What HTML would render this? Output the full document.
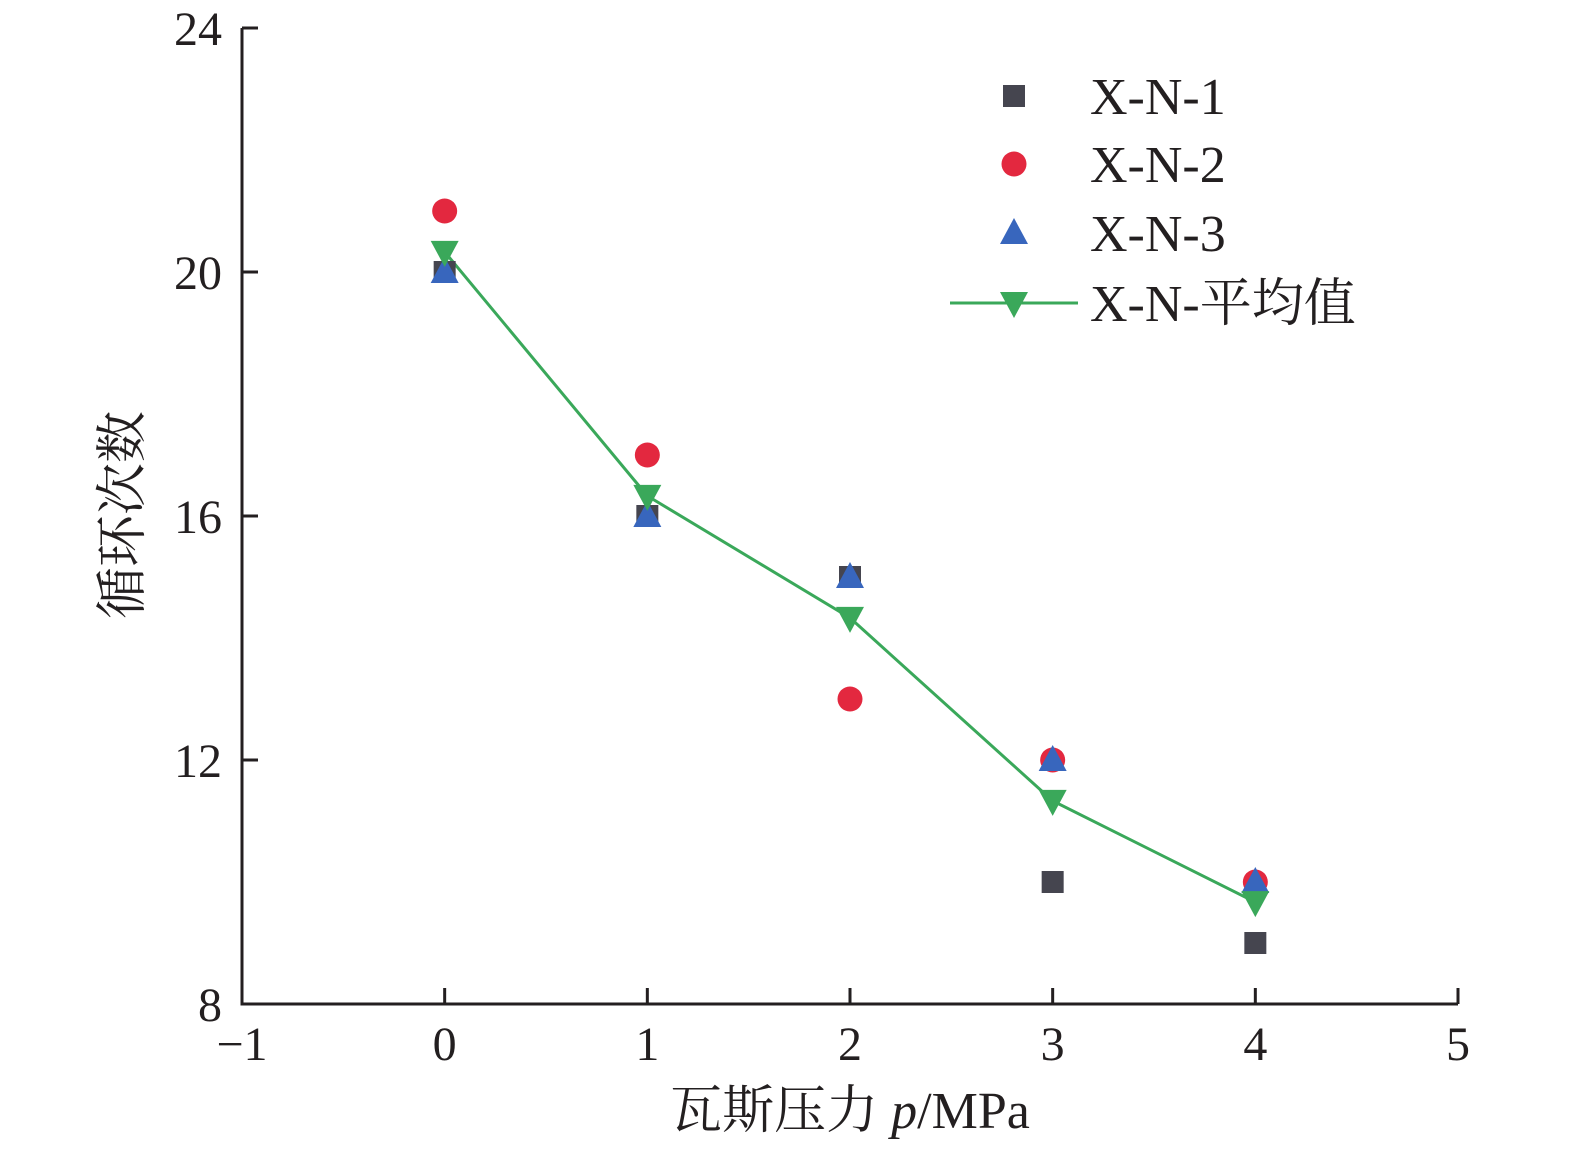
<!DOCTYPE html>
<html><head><meta charset="utf-8"><style>
body{margin:0;background:#fff}
svg text{font-family:"Liberation Serif","Noto Serif CJK SC",serif;fill:#231f20}
</style></head><body>
<svg id="chart" width="1575" height="1150" xmlns="http://www.w3.org/2000/svg">
<g id="axes"></g><g id="marks"></g><g id="legend"></g>
<text x="850" y="1128" font-size="52" text-anchor="middle">瓦斯压力 <tspan font-style="italic">p</tspan>/MPa</text>
<text transform="translate(140,515) rotate(-90)" font-size="52" text-anchor="middle">循环次数</text>
</svg>
<script>
const xCats=[0,1,2,3,4];
const s1=[20,16,15,10,9];
const s2=[21,17,13,12,10];
const s3=[20,16,15,12,10];
const avg=[20.33,16.33,14.33,11.33,9.67];
const xTicks=[-1,0,1,2,3,4,5];
const yTicks=[8,12,16,20,24];
const NS='http://www.w3.org/2000/svg';
const X=v=>242+(v+1)*(1458-242)/6;
const Y=v=>1004-(v-8)*(1004-28)/16;
function mk(t,a,p){const e=document.createElementNS(NS,t);for(const k in a)e.setAttribute(k,a[k]);document.getElementById(p).appendChild(e);return e;}
let e=mk('path',{d:`M242 ${Y(24)} V1004 H1458`,stroke:'#231f20','stroke-width':3,fill:'none'},'axes');


xTicks.forEach(v=>{
 let t=mk('line',{x1:X(v),x2:X(v),y1:1004,y2:v==-1?1004:988,stroke:'#231f20','stroke-width':3},'axes');
 
 
 let l=mk('text',{x:X(v),y:1060,'font-size':48,'text-anchor':'middle'},'axes');
 l.textContent=v<0?'−'+(-v):v;
 
 
});
yTicks.forEach(v=>{
 let t=mk('line',{x1:242,x2:258,y1:Y(v),y2:Y(v),stroke:'#231f20','stroke-width':3},'axes');
 
 
 let l=mk('text',{x:222,y:Y(v)+17,'font-size':48,'text-anchor':'end'},'axes');
 l.textContent=v;
 
 
});
const sq=(x,y,p)=>mk('rect',{x:x-11,y:y-11,width:22,height:22,fill:'#45454f'},p);
const ci=(x,y,p)=>mk('circle',{cx:x,cy:y,r:12.5,fill:'#e3283f'},p);
const up=(x,y,p)=>mk('path',{d:`M${x} ${y-15} L${x+14} ${y+11} L${x-14} ${y+11}Z`,fill:'#3866bd'},p);
const dn=(x,y,p)=>mk('path',{d:`M${x} ${y+15} L${x+14} ${y-11} L${x-14} ${y-11}Z`,fill:'#3aa85a'},p);
let pl=mk('polyline',{points:xCats.map((c,i)=>X(c)+','+Y(avg[i])).join(' '),fill:'none',stroke:'#3aa85a','stroke-width':3},'marks');


xCats.forEach((c,i)=>{
 let a=sq(X(c),Y(s1[i]),'marks');
 let b=ci(X(c),Y(s2[i]),'marks');
 let d=up(X(c),Y(s3[i]),'marks');
 let f=dn(X(c),Y(avg[i]),'marks');
});
const legNames=['X-N-1','X-N-2','X-N-3','X-N-平均值'];
const legY=[96,164,233,303];
const fns=[sq,ci,up,dn];
legNames.forEach((n,i)=>{
 if(i==3){let l=mk('line',{x1:950,x2:1078,y1:legY[i],y2:legY[i],stroke:'#3aa85a','stroke-width':3},'legend');}
 let m=fns[i](1014,legY[i],'legend');
 let t=mk('text',{x:1090,y:legY[i]+18,'font-size':52},'legend');t.textContent=n;
 
 
});
</script>
</body></html>
